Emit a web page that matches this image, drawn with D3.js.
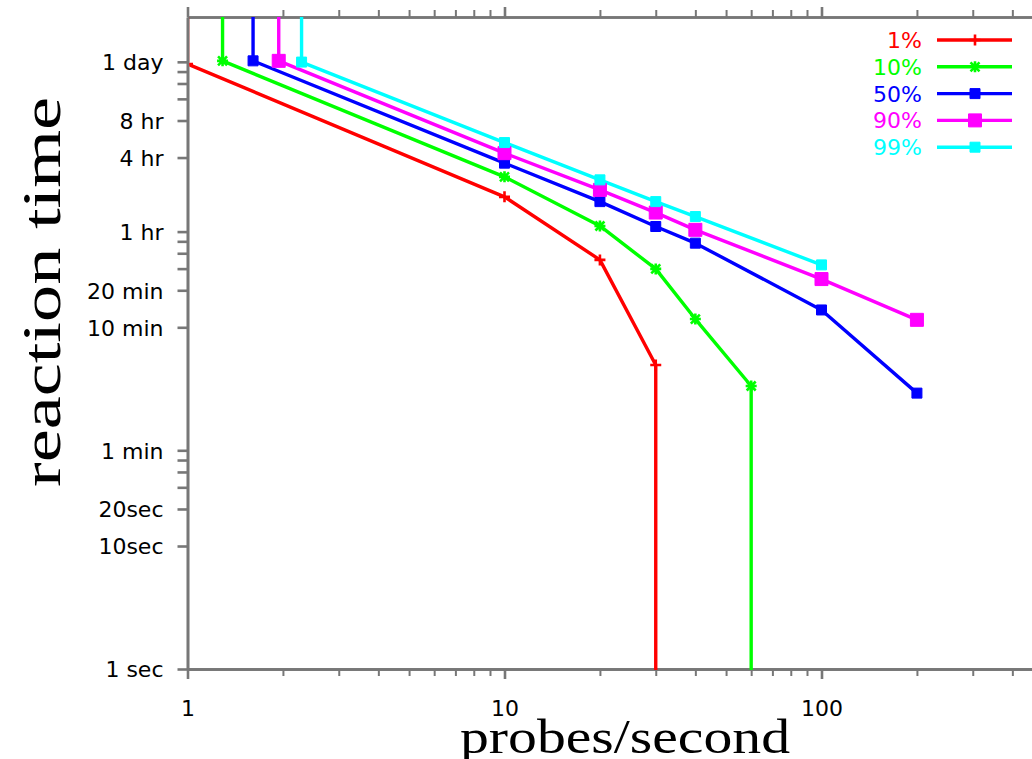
<!DOCTYPE html>
<html><head><meta charset="utf-8">
<script src="https://cdn.jsdelivr.net/npm/d3@7"></script>
<style>body{margin:0;background:#fff} svg{display:block}</style>
</head><body><svg id="c" width="1032" height="759"></svg>
<script>
// ---- data ----
const seriesNames  = ["1%", "10%", "50%", "90%", "99%"];
const seriesColors = ["#ff0000", "#00ff00", "#0000ff", "#ff00ff", "#00ffff"];
const seriesMarks  = ["plus", "star", "square", "bigsquare", "square"];
const OFF_TOP = 1e7;      // beyond the top of the chart (no reaction)
const OFF_BOTTOM = 0.1;   // below 1 sec
const x1  = [1, 1, 10, 20, 30, 30];
const y1  = [OFF_TOP, 83000, 6900, 2120, 296, OFF_BOTTOM];
const x10 = [1.29, 1.29, 10, 20, 30, 40, 60, 60];
const y10 = [OFF_TOP, 88000, 10030, 4000, 1790, 700, 200, OFF_BOTTOM];
const x50 = [1.61, 1.61, 10, 20, 30, 40, 100, 200];
const y50 = [OFF_TOP, 88000, 12970, 6310, 3960, 2900, 830, 175];
const x90 = [1.94, 1.94, 10, 20, 30, 40, 100, 200];
const y90 = [OFF_TOP, 88000, 15630, 7860, 5140, 3720, 1480, 690];
const x99 = [2.29, 2.29, 10, 20, 30, 40, 100];
const y99 = [OFF_TOP, 86000, 19060, 9480, 6310, 4770, 1930];
const seriesX = [x1, x10, x50, x90, x99];
const seriesY = [y1, y10, y50, y90, y99];

const yTickValues = [1, 10, 20, 60, 600, 1200, 3600, 14400, 28800, 86400];
const yTickLabels = ["1 sec", "10sec", "20sec", "1 min", "10 min", "20 min", "1 hr", "4 hr", "8 hr", "1 day"];
const yMinorTicks = [30, 40, 50, 1800, 2400, 3000, 43200, 57600, 72000];
const xMajorTicks = [1, 10, 100];
const xTickLabels = ["1", "10", "100"];
const xMinorTicks = [2,3,4,5,6,7,8,9,20,30,40,50,60,70,80,90,200,300,400,500,600,700,800,900];
const xDomain = [1, 1000];
const yDomain = [1, 200000];
const xTitle = "probes/second";
const yTitle = "reaction time";

// ---- layout ----
const svg = d3.select("#c");
const L = 187.5, B = 669, T = 17, DEC = 317;
const x = d3.scaleLog().domain(xDomain).range([L, L + DEC * 3]);
const y = d3.scaleLog().domain(yDomain).range([B, T]);
const axisColor = "#777";
const smallFont = "'DejaVu Sans', sans-serif";

const defs = svg.append("defs");
defs.append("clipPath").attr("id", "clip")
  .append("rect").attr("x", L + 1.8).attr("y", T).attr("width", 1032 - L).attr("height", B - T + 1);
defs.append("clipPath").attr("id", "clipm")
  .append("rect").attr("x", L + 2).attr("y", T).attr("width", 1032 - L).attr("height", B - T);

function styleAxis(g, w) {
  g.selectAll("path.domain").attr("stroke", axisColor).attr("stroke-width", 2.6);
  g.selectAll(".tick line").attr("stroke", axisColor).attr("stroke-width", w);
  g.selectAll("text").remove();
}

// bottom axis
svg.append("g").attr("transform", `translate(0,${B})`)
  .call(d3.axisBottom(x).tickValues(xMinorTicks).tickSizeInner(7).tickSizeOuter(0))
  .call(g => styleAxis(g, 2));
svg.append("g").attr("transform", `translate(0,${B})`)
  .call(d3.axisBottom(x).tickValues([1000]).tickSizeInner(10).tickSizeOuter(0))
  .call(g => styleAxis(g, 2.6));
const xb = svg.append("g").attr("transform", `translate(0,${B})`)
  .call(d3.axisBottom(x).tickValues(xMajorTicks).tickSizeInner(10).tickSizeOuter(0)
        .tickFormat((d, i) => xTickLabels[i]));
xb.selectAll("path.domain").attr("stroke", axisColor).attr("stroke-width", 2.6);
xb.selectAll(".tick line").attr("stroke", axisColor).attr("stroke-width", 2.6);
xb.selectAll("text").attr("fill", "#000").attr("font-family", smallFont).attr("font-size", 22)
  .attr("dy", null).attr("y", 47);

// top axis
svg.append("g").attr("transform", `translate(0,${T})`)
  .call(d3.axisTop(x).tickValues(xMinorTicks).tickSizeInner(7).tickSizeOuter(0))
  .call(g => styleAxis(g, 2));
svg.append("g").attr("transform", `translate(0,${T})`)
  .call(d3.axisTop(x).tickValues(xMajorTicks).tickSizeInner(10).tickSizeOuter(0))
  .call(g => styleAxis(g, 2.6));

// left axis
svg.append("g").attr("transform", `translate(${L},0)`)
  .call(d3.axisLeft(y).tickValues(yMinorTicks).tickSizeInner(10).tickSizeOuter(0))
  .call(g => styleAxis(g, 2.6));
const yl = svg.append("g").attr("transform", `translate(${L},0)`)
  .call(d3.axisLeft(y).tickValues(yTickValues).tickSizeInner(10).tickSizeOuter(0)
        .tickFormat((d, i) => yTickLabels[i]));
yl.selectAll("path.domain").attr("stroke", axisColor).attr("stroke-width", 2.6);
yl.selectAll(".tick line").attr("stroke", axisColor).attr("stroke-width", 2.6);
yl.selectAll("text").attr("fill", "#000").attr("font-family", smallFont).attr("font-size", 22)
  .attr("x", -24).attr("dy", "0.36em");

// titles
svg.append("text").attr("x", 625).attr("y", 753).attr("text-anchor", "middle")
  .attr("font-family", "'Liberation Serif', serif").attr("font-size", 48)
  .attr("textLength", 330).attr("lengthAdjust", "spacingAndGlyphs")
  .attr("fill", "#000").text(xTitle);
svg.append("text").attr("transform", "translate(60,292) rotate(-90)").attr("text-anchor", "middle")
  .attr("font-family", "'Liberation Serif', serif").attr("font-size", 54)
  .attr("textLength", 390).attr("lengthAdjust", "spacingAndGlyphs")
  .attr("fill", "#000").text(yTitle);

// markers
function markerPath(kind) {
  if (kind === "plus") return "M-5.5,0H5.5M0,-5.5V5.5";
  if (kind === "star") return "M-5.5,0H5.5M0,-5.5V5.5M-4.5,-4.5L4.5,4.5M-4.5,4.5L4.5,-4.5";
  const s = kind === "bigsquare" ? 6.5 : 5;
  return `M${-s},${-s}H${s}V${s}H${-s}Z`;
}
function drawMarker(g, kind, color, cx, cy) {
  const filled = kind === "square" || kind === "bigsquare";
  g.append("path").attr("transform", `translate(${cx},${cy})`).attr("d", markerPath(kind))
    .attr("fill", filled ? color : "none").attr("stroke", color)
    .attr("stroke-width", filled ? 1 : 2.6);
}

// data lines
const line = d3.line().x(d => x(d[0])).y(d => y(d[1]));
const dataG = svg.append("g").attr("clip-path", "url(#clip)");
const markG = svg.append("g").attr("clip-path", "url(#clipm)");
seriesNames.forEach((name, i) => {
  const pts = seriesX[i].map((v, j) => [v, seriesY[i][j]]);
  dataG.append("path").datum(pts).attr("d", line)
    .attr("fill", "none").attr("stroke", seriesColors[i]).attr("stroke-width", 3.4)
    .attr("stroke-linejoin", "round");
  pts.filter(p => p[1] >= yDomain[0] && p[1] <= yDomain[1])
     .forEach(p => drawMarker(markG, seriesMarks[i], seriesColors[i], x(p[0]), y(p[1])));
});

// legend
const legG = svg.append("g");
seriesNames.forEach((name, i) => {
  const ry = 40 + i * 26.8;
  legG.append("text").attr("x", 922).attr("y", ry + 8).attr("text-anchor", "end")
    .attr("font-family", smallFont).attr("font-size", 22).attr("fill", seriesColors[i]).text(name);
  legG.append("line").attr("x1", 937).attr("x2", 1012).attr("y1", ry).attr("y2", ry)
    .attr("stroke", seriesColors[i]).attr("stroke-width", 3.4);
  drawMarker(legG, seriesMarks[i], seriesColors[i], 975, ry);
});
</script></body></html>
